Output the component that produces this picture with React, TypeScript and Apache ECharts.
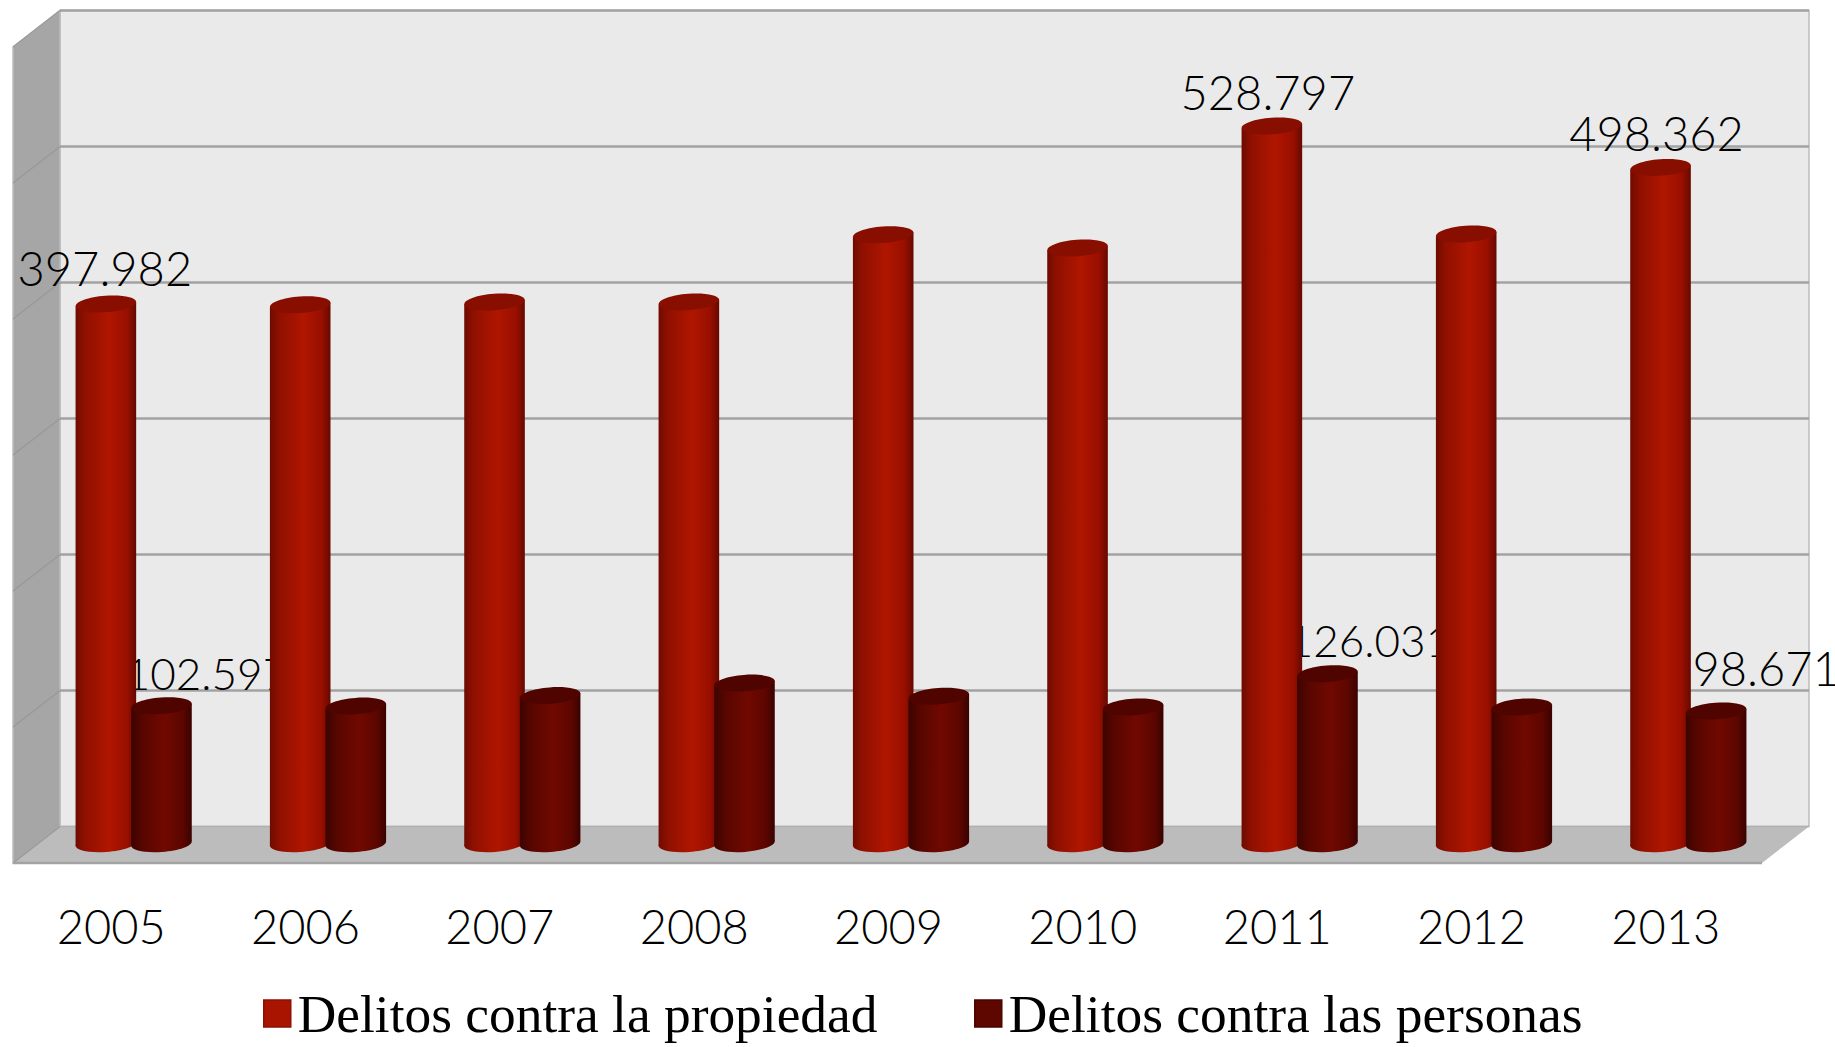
import React, { useEffect, useRef } from "react";
import * as echarts from "echarts";

const years = ["2005", "2006", "2007", "2008", "2009", "2010", "2011", "2012", "2013"];
const propiedad = [397982, 397400, 399400, 399500, 448900, 439100, 528797, 449400, 498362];
const personas = [102597, 102300, 110000, 119200, 109600, 101600, 126031, 101600, 98671];
const yTicks = [0, 100000, 200000, 300000, 400000, 500000, 600000];
const namePropiedad = "Delitos contra la propiedad";
const namePersonas = "Delitos contra las personas";
// [year index, series index (0 propiedad, 1 personas)] of the values that carry a label
const labelled = [[0, 0], [6, 0], [8, 0], [0, 1], [6, 1], [8, 1]];

const WALL_DX = 47;
const WALL_DY = -36.5;
const BAR_DX = 23.5;
const BAR_DY = -17.8;
const BAR_SHIFT = 27.8;
const RX = 30.3;
const RY = 8.2;
const TILT = 0.075;
const BASE_LIFT = 1.5;
const LABEL_FONT = "Lato";
const LABEL_WEIGHT = 300;
const LABEL_SIZE = 47;
const NARROW_LABEL_SIZE = 44;

const fmt = (v: number) => String(v).replace(/\B(?=(\d{3})+$)/g, ".");
const grad = (stops: [number, string][]) =>
  new echarts.graphic.LinearGradient(0, 0, 1, 0, stops.map(([offset, color]) => ({ offset, color })));

function renderWalls(params: any, api: any) {
  const c = params.coordSys;
  const x0 = c.x, x1 = c.x + c.width;
  const yb = api.coord([0, 0])[1];
  const yt = api.coord([0, 600000])[1];
  const children: any[] = [
    { type: "rect", shape: { x: x0 + WALL_DX, y: yt + WALL_DY, width: x1 - x0, height: yb - yt }, style: { fill: "#eaeaea", stroke: "#bdbdbd", lineWidth: 1.5 } },
    { type: "polygon", shape: { points: [[x0, yt], [x0 + WALL_DX, yt + WALL_DY], [x0 + WALL_DX, yb + WALL_DY], [x0, yb]] }, style: { fill: "#a6a6a6", stroke: "#bcbcbc", lineWidth: 1.5 } },
    { type: "polygon", shape: { points: [[x0, yb], [x0 + WALL_DX, yb + WALL_DY], [x1 + WALL_DX, yb + WALL_DY], [x1, yb]] }, style: { fill: "#bcbcbc" } },
  ];
  yTicks.forEach((t) => {
    const y = api.coord([0, t])[1];
    children.push({ type: "line", shape: { x1: x0, y1: y, x2: x0 + WALL_DX, y2: y + WALL_DY }, style: { stroke: "#999999", lineWidth: 1.5 } });
    children.push({ type: "line", shape: { x1: x0 + WALL_DX, y1: y + WALL_DY, x2: x1 + WALL_DX, y2: y + WALL_DY }, style: { stroke: t === 0 ? "#b0b0b0" : "#a2a2a2", lineWidth: t === 0 ? 1.5 : 2.5 } });
  });
  children.push({ type: "line", shape: { x1: x0, y1: yb, x2: x1, y2: yb }, style: { stroke: "#a3a3a3", lineWidth: 2.5 } });
  return { type: "group", children };
}

function makeBarRenderer(side: number, body: [number, string][], cap: string) {
  return (_params: any, api: any) => {
    const top = api.coord([api.value(0), api.value(1)]);
    const base = api.coord([api.value(0), 0]);
    const cx = top[0] + BAR_DX + side * BAR_SHIFT;
    const ty = top[1] + BAR_DY;
    const by = base[1] + BAR_DY - BASE_LIFT;
    const lean = RX * Math.sin(TILT);
    return {
      type: "group",
      children: [
        { type: "ellipse", x: cx, y: by, rotation: TILT, shape: { cx: 0, cy: 0, rx: RX, ry: RY }, style: { fill: grad(body) } },
        { type: "polygon", shape: { points: [[cx - RX, ty + lean], [cx + RX, ty - lean], [cx + RX, by - lean], [cx - RX, by + lean]] }, style: { fill: grad(body) } },
        { type: "ellipse", x: cx, y: ty, rotation: TILT, shape: { cx: 0, cy: 0, rx: RX, ry: RY }, style: { fill: cap } },
      ],
    };
  };
}

function labelOffset(yearIndex: number, side: number) {
  if (side === 0) return yearIndex === 0 ? [-1, -36] : [-4, -34];
  if (yearIndex === 8) return [50, -43];
  return yearIndex === 0 ? [45, -33] : [42, -34];
}

function renderLabel(_params: any, api: any) {
  const yearIndex = api.value(0);
  const side = api.value(2);
  const top = api.coord([yearIndex, api.value(1)]);
  const off = labelOffset(yearIndex, side);
  return {
    type: "text",
    x: top[0] + BAR_DX + (side === 0 ? -1 : 1) * BAR_SHIFT + off[0],
    y: top[1] + BAR_DY + off[1],
    style: {
      text: fmt(api.value(1)),
      fontFamily: LABEL_FONT,
      fontWeight: LABEL_WEIGHT,
      fontSize: side === 1 && yearIndex !== 8 ? NARROW_LABEL_SIZE : LABEL_SIZE,
      fill: "#000000",
      align: "center",
      verticalAlign: "middle",
    },
  };
}

export default function App() {
  const ref = useRef<HTMLDivElement>(null);
  useEffect(() => {
    document.body.style.margin = "0";
    const chart = echarts.init(ref.current!, null, { renderer: "svg" });
    const legendCommon = {
      orient: "horizontal" as const,
      top: 987,
      itemWidth: 27,
      itemHeight: 27,
      icon: "rect",
      selectedMode: false,
      padding: 0,
      textStyle: { fontFamily: "Liberation Serif", fontSize: 53.4, color: "#000000", padding: [24, 0, 0, 2] },
    };
    chart.setOption({
      animation: false,
      backgroundColor: "#ffffff",
      grid: { left: 13, right: 73, top: 47, bottom: 184, containLabel: false },
      xAxis: {
        type: "category",
        data: years,
        axisLine: { show: false },
        axisTick: { show: false },
        axisLabel: { margin: 39, padding: [0, 0, 0, 2], fontFamily: LABEL_FONT, fontWeight: LABEL_WEIGHT, fontSize: LABEL_SIZE, color: "#000000", interval: 0 },
      },
      yAxis: {
        type: "value",
        min: 0,
        max: 600000,
        interval: 100000,
        axisLine: { show: false },
        axisTick: { show: false },
        axisLabel: { show: false },
        splitLine: { show: false },
      },
      legend: [
        { ...legendCommon, left: 263, data: [namePropiedad], itemStyle: { color: "#a81400", borderColor: "#8c1100", borderWidth: 1.5 } },
        { ...legendCommon, left: 974, data: [namePersonas], itemStyle: { color: "#5e0700", borderColor: "#4a0500", borderWidth: 1.5 } },
      ],
      series: [
        { type: "custom", name: "walls", z: 1, silent: true, clip: false, data: [[0, 0]], encode: { x: 0, y: 1 }, renderItem: renderWalls },
        { type: "custom", name: "labels", z: 2, silent: true, clip: false,
          data: labelled.map(([i, s]) => [i, s === 0 ? propiedad[i] : personas[i], s]),
          encode: { x: 0, y: 1 }, renderItem: renderLabel },
        { type: "custom", name: namePropiedad, z: 3, clip: false, itemStyle: { color: "#a81400" },
          data: propiedad.map((v, i) => [i, v]), encode: { x: 0, y: 1 },
          renderItem: makeBarRenderer(-1, [[0, "#6e0b00"], [0.15, "#8f1000"], [0.55, "#b01600"], [0.85, "#990f00"], [1, "#660900"]], "#880e00") },
        { type: "custom", name: namePersonas, z: 4, clip: false, itemStyle: { color: "#5e0700" },
          data: personas.map((v, i) => [i, v]), encode: { x: 0, y: 1 },
          renderItem: makeBarRenderer(1, [[0, "#3c0400"], [0.2, "#590600"], [0.55, "#700900"], [0.85, "#5c0600"], [1, "#380300"]], "#500400") },
      ],
    });
    return () => chart.dispose();
  }, []);
  return <div ref={ref} style={{ position: "absolute", left: 0, top: 0, width: 1835, height: 1047 }} />;
}
